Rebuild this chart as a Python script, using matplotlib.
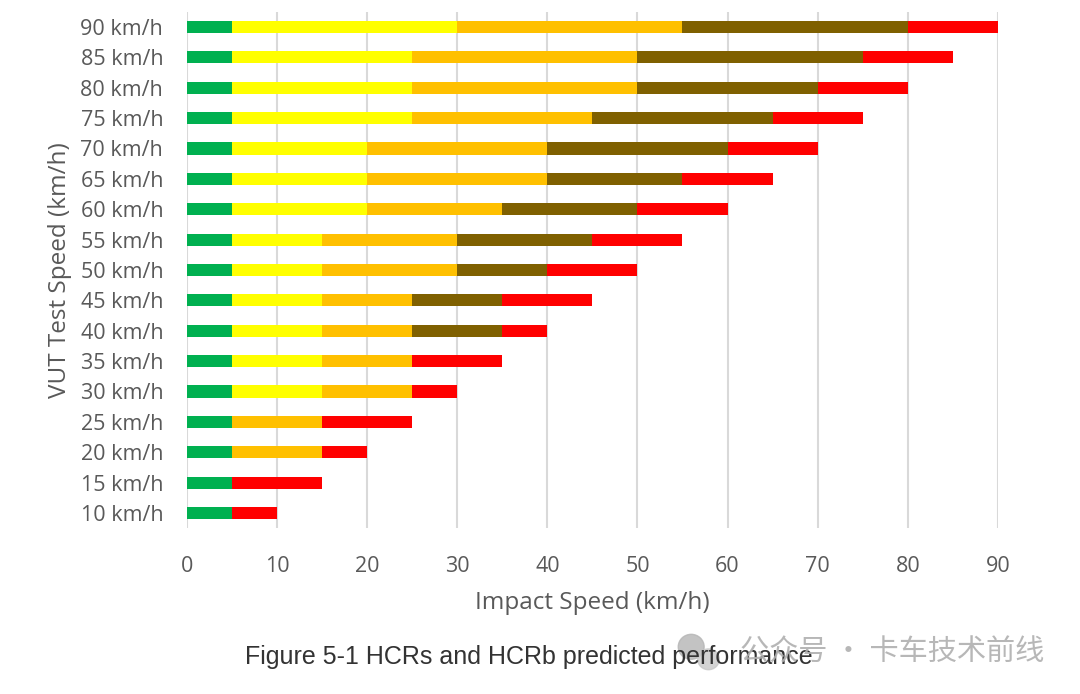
import matplotlib.pyplot as plt
from matplotlib.patches import Ellipse
import numpy as np

speeds = [10, 15, 20, 25, 30, 35, 40, 45, 50, 55, 60, 65, 70, 75, 80, 85, 90]
labels = [f"{s} km/h" for s in speeds]

# segment widths for each test speed
green = [5, 5, 5, 5, 5, 5, 5, 5, 5, 5, 5, 5, 5, 5, 5, 5, 5]
yellow = [0, 0, 0, 0, 10, 10, 10, 10, 10, 10, 15, 15, 15, 20, 20, 20, 25]
orange = [0, 0, 10, 10, 10, 10, 10, 10, 15, 15, 15, 20, 20, 20, 25, 25, 25]
brown = [0, 0, 0, 0, 0, 0, 10, 10, 10, 15, 15, 15, 20, 20, 20, 25, 25]
red = [5, 10, 5, 10, 5, 10, 5, 10, 10, 10, 10, 10, 10, 10, 10, 10, 10]

segments = [green, yellow, orange, brown, red]
colors = ["#00B050", "#FFFF00", "#FFC000", "#7F6000", "#FF0000"]

fig = plt.figure(figsize=(10.8, 6.94), dpi=100)
ax = fig.add_axes([0.173, 0.239, 0.751, 0.744])

y = np.arange(len(speeds))
left = np.zeros(len(speeds))
for seg, c in zip(segments, colors):
    seg = np.array(seg)
    ax.barh(y, seg, left=left, height=0.4, color=c, zorder=3)
    left += seg

ax.set_xlim(0, 90)
ax.set_ylim(-0.5, len(speeds) - 0.5)
ax.set_xticks(range(0, 91, 10))
ax.set_yticks(y)
ax.set_yticklabels(labels)
ax.xaxis.grid(True, color="#d9d9d9", linewidth=1.5, zorder=0)
for s in ax.spines.values():
    s.set_visible(False)
ax.tick_params(length=0, labelsize=15.5, labelcolor="#595959")
ax.tick_params(axis="x", pad=20)
ax.tick_params(axis="y", pad=17)
for t in ax.get_xticklabels() + ax.get_yticklabels():
    t.set_fontfamily("Open Sans")

ax.set_xlabel("Impact Speed (km/h)", fontsize=17.5, color="#595959",
              fontfamily="Open Sans", labelpad=10)
ax.set_ylabel("VUT Test Speed (km/h)", fontsize=17.5, color="#595959",
              fontfamily="Open Sans", labelpad=6)

fig.text(0.49, 0.053, "Figure 5-1 HCRs and HCRb predicted performance",
         ha="center", va="center", fontsize=18, color="#333333",
         fontfamily="Liberation Sans")

# watermark
fig.patches.append(Ellipse((0.64, 0.068), 0.024, 0.036, transform=fig.transFigure,
                           color="#b5b5b5", alpha=0.8))
fig.patches.append(Ellipse((0.656, 0.05), 0.02, 0.03, transform=fig.transFigure,
                           color="#c8c8c8", alpha=0.8))
fig.text(0.967, 0.06, "公众号 · 卡车技术前线", ha="right", va="center",
         fontsize=21, color="#b0b0b0", alpha=0.9,
         fontfamily=["Noto Sans CJK SC", "DejaVu Sans"])

fig.savefig("out.png", dpi=100)
